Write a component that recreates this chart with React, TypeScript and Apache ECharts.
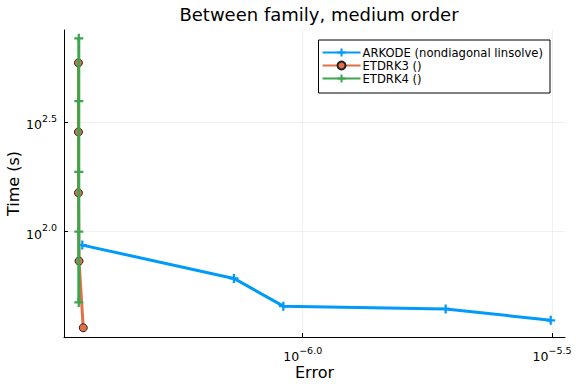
import React, { useEffect, useRef } from "react";
import * as echarts from "echarts";

const seriesNames = ["ARKODE (nondiagonal linsolve)", "ETDRK3 ()", "ETDRK4 ()"];
const arkodeError = [3.614e-7, 7.278e-7, 9.145e-7, 1.935e-6, 3.143e-6];
const arkodeTime = [86.9, 61.2, 45.7, 44.4, 39.4];
const etdrk3Error = [3.55e-7, 3.55e-7, 3.55e-7, 3.56e-7, 3.63e-7];
const etdrk3Time = [591.6, 285.8, 150.7, 73.5, 36.4];
const etdrk4Error = [3.556e-7, 3.556e-7, 3.556e-7, 3.556e-7, 3.556e-7];
const etdrk4Time = [765.6, 395.4, 187.9, 100.0, 47.5];
const xTickExps = [-6.0, -5.5];
const yTickExps = [2.0, 2.5];

const colors = ["#009AFA", "#E26F46", "#3EA44E"];
const FONT = "DejaVu Sans";
const PLUS = "path://M3,0h2v3h3v2h-3v3h-2v-3h-3v-2h3z";

const toLog = (xs: number[], ys: number[]) =>
  xs.map((x, i) => [Math.log10(x), Math.log10(ys[i])]);

const fmt = (v: number) => `{b|10}{s|${v.toFixed(1).replace("-", "\u2212")}}`;

const rich = {
  b: { fontFamily: FONT, fontSize: 12.5, color: "#000", verticalAlign: "bottom", lineHeight: 18 },
  s: { fontFamily: FONT, fontSize: 9.5, color: "#000", verticalAlign: "bottom", padding: [0, 0, 8, 0], lineHeight: 18 },
};

export default function App() {
  const ref = useRef<HTMLDivElement>(null);
  useEffect(() => {
    const chart = echarts.init(ref.current!, undefined, { renderer: "svg" });
    const line = (i: number, data: number[][], symbol: string, size: number, border: boolean) => ({
      name: seriesNames[i],
      type: "line",
      data,
      symbol,
      symbolSize: size,
      showAllSymbol: true,
      lineStyle: { color: colors[i], width: 3 },
      itemStyle: border
        ? { color: colors[i], borderColor: "#222", borderWidth: 1 }
        : { color: colors[i], borderWidth: 0 },
      z: 2 + i,
    });
    chart.setOption({
      animation: false,
      backgroundColor: "#fff",
      title: {
        text: "Between family, medium order",
        left: 314,
        textAlign: "center",
        top: 0,
        textStyle: { fontFamily: FONT, fontSize: 18, fontWeight: "normal", color: "#000" },
      },
      grid: { left: 64, right: 11, top: 30, bottom: 47, containLabel: false, outerBoundsMode: "none" },
      legend: {
        orient: "vertical",
        right: 26,
        top: 40,
        padding: [6, 7, 8, 3],
        itemGap: 0,
        itemWidth: 38,
        itemHeight: 10,
        borderColor: "#000",
        borderWidth: 1,
        borderRadius: 0,
        backgroundColor: "#fff",
        textStyle: { fontFamily: FONT, fontSize: 11.6, lineHeight: 13, color: "#000", padding: [0, 0, 0, -3] },
        data: seriesNames,
      },
      xAxis: {
        type: "value",
        min: -6.4787,
        max: -5.474,
        name: "Error",
        nameLocation: "middle",
        nameGap: 27,
        nameMoveOverlap: false,
        nameTextStyle: { fontFamily: FONT, fontSize: 16, color: "#000" },
        axisLine: { lineStyle: { color: "#000", width: 1 } },
        axisTick: { inside: true, length: 4, customValues: xTickExps, lineStyle: { color: "#000" } },
        axisLabel: { customValues: xTickExps, formatter: fmt, rich, margin: 8 },
        splitLine: { show: true, lineStyle: { color: "#e6e6e6", width: 0.6 } },
      },
      yAxis: {
        type: "value",
        min: 1.519,
        max: 2.922,
        name: "Time (s)",
        nameLocation: "middle",
        nameGap: 43,
        nameMoveOverlap: false,
        nameTextStyle: { fontFamily: FONT, fontSize: 16, color: "#000" },
        axisLine: { show: true, lineStyle: { color: "#000", width: 1 } },
        axisTick: { show: true, inside: true, length: 4, customValues: yTickExps, lineStyle: { color: "#000" } },
        axisLabel: { customValues: yTickExps, formatter: fmt, rich, margin: 7 },
        splitLine: { show: true, lineStyle: { color: "#e6e6e6", width: 0.6 } },
      },
      series: [
        line(0, toLog(arkodeError, arkodeTime), PLUS, 9, false),
        line(1, toLog(etdrk3Error, etdrk3Time), "circle", 8, true),
        line(2, toLog(etdrk4Error, etdrk4Time), PLUS, 9, false),
      ],
    });
    return () => chart.dispose();
  }, []);
  return <div ref={ref} style={{ width: 576, height: 384, position: "absolute", left: 0, top: 0 }} />;
}
